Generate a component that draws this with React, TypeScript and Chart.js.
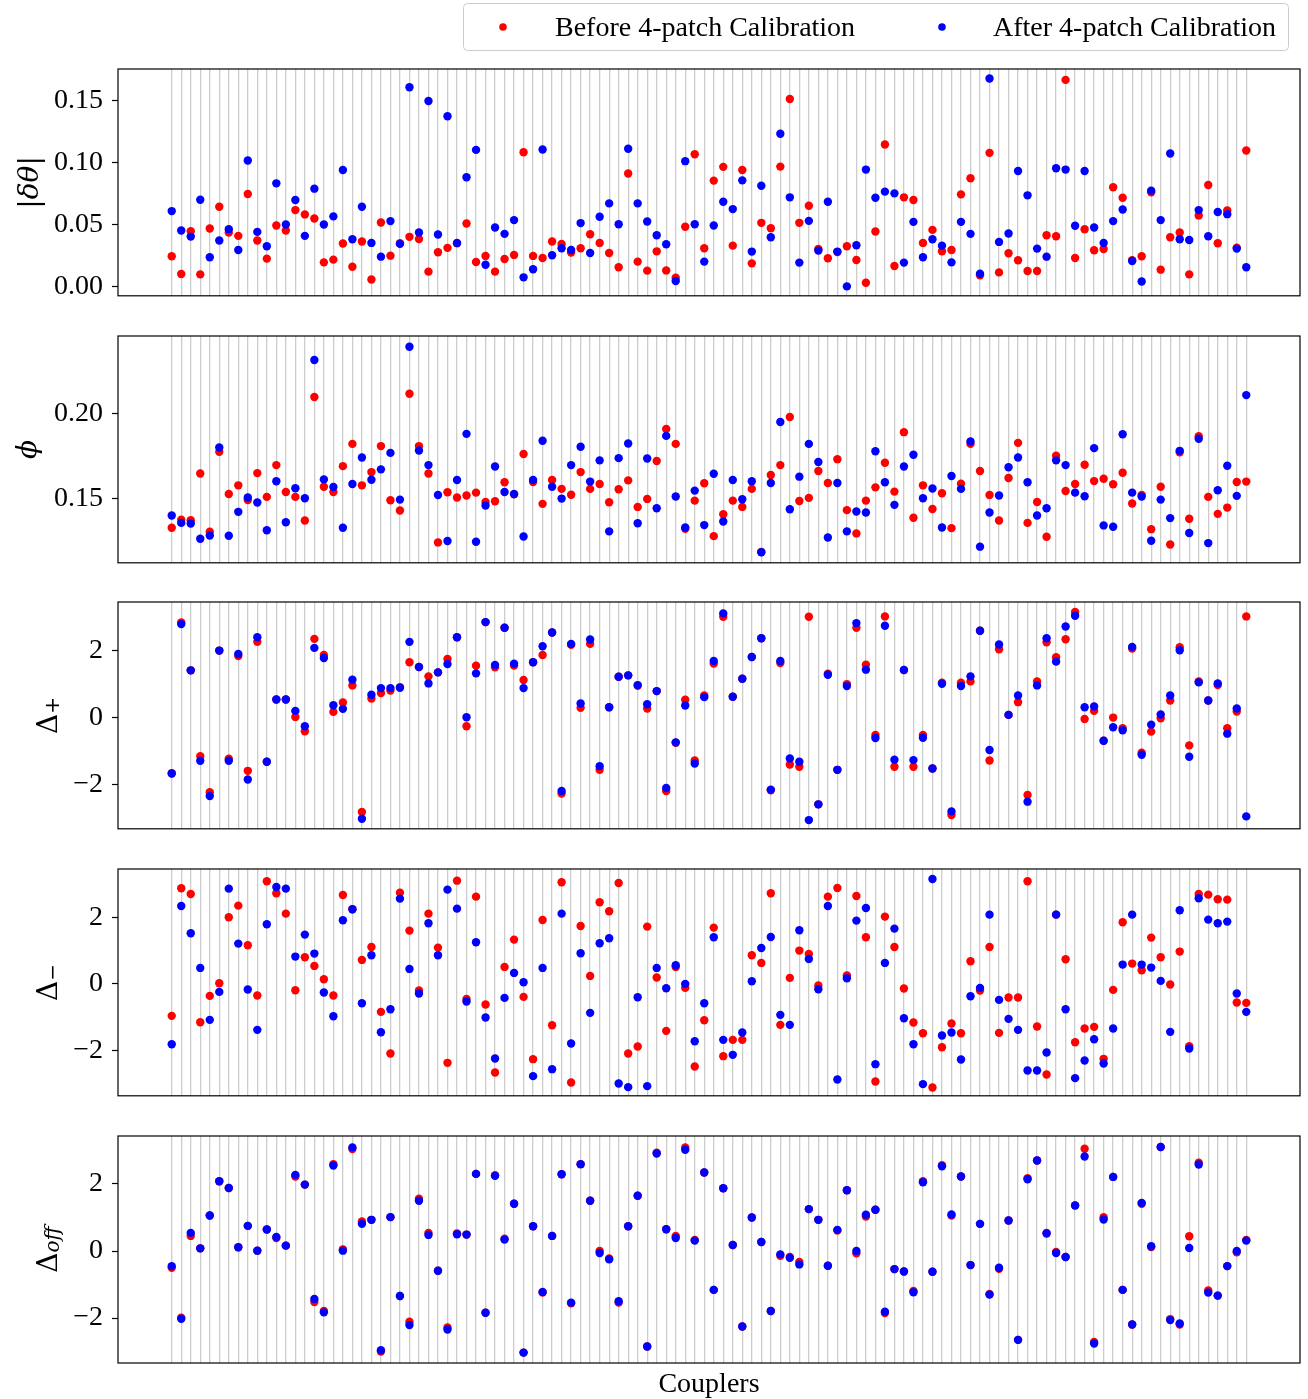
import React, { useEffect, useRef } from 'react';
import { Chart, registerables } from 'chart.js';

Chart.register(...registerables);

// ---------------- data ----------------
const COUPLERS: number[] = Array.from({ length: 114 }, (_, i) => i);

const LEGEND_LABELS = ['Before 4-patch Calibration', 'After 4-patch Calibration'];
const X_LABEL = 'Couplers';

const DTHETA_TICKS = [0, 0.05, 0.1, 0.15];
const PHI_TICKS = [0.15, 0.2];
const DELTA_TICKS = [-2, 0, 2];

const DTHETA_BEFORE = [
  0.0246, 0.0103, 0.0449, 0.0100, 0.0470, 0.0646, 0.0438, 0.0411, 0.0749, 0.0373,
  0.0227, 0.0495, 0.0454, 0.0619, 0.0584, 0.0551, 0.0197, 0.0219, 0.0349, 0.0162,
  0.0365, 0.0059, 0.0519, 0.0251, 0.0351, 0.0403, 0.0386, 0.0122, 0.0278, 0.0314,
  0.0350, 0.0511, 0.0200, 0.0249, 0.0122, 0.0224, 0.0257, 0.1086, 0.0249, 0.0232,
  0.0365, 0.0346, 0.0276, 0.0311, 0.0424, 0.0354, 0.0273, 0.0157, 0.0914, 0.0203,
  0.0130, 0.0286, 0.0132, 0.0073, 0.0484, 0.1070, 0.0311, 0.0857, 0.0968, 0.0332,
  0.0943, 0.0189, 0.0516, 0.0473, 0.0970, 0.1516, 0.0516, 0.0654, 0.0305, 0.0230,
  0.0280, 0.0327, 0.0216, 0.0032, 0.0446, 0.1149, 0.0168, 0.0722, 0.0700, 0.0354,
  0.0459, 0.0286, 0.0297, 0.0746, 0.0876, 0.0092, 0.1081, 0.0116, 0.0270, 0.0214,
  0.0127, 0.0127, 0.0416, 0.0408, 0.1670, 0.0232, 0.0465, 0.0295, 0.0305, 0.0803,
  0.0719, 0.0214, 0.0246, 0.0762, 0.0138, 0.0400, 0.0438, 0.0100, 0.0576, 0.0822,
  0.0351, 0.0616, 0.0316, 0.1100,
];
const DTHETA_AFTER = [
  0.0611, 0.0454, 0.0405, 0.0703, 0.0238, 0.0373, 0.0465, 0.0297, 0.1019, 0.0443,
  0.0327, 0.0835, 0.0503, 0.0700, 0.0411, 0.0792, 0.0503, 0.0568, 0.0943, 0.0384,
  0.0646, 0.0354, 0.0243, 0.0530, 0.0346, 0.1611, 0.0438, 0.1500, 0.0422, 0.1376,
  0.0354, 0.0884, 0.1105, 0.0178, 0.0478, 0.0427, 0.0538, 0.0076, 0.0141, 0.1108,
  0.0254, 0.0311, 0.0297, 0.0514, 0.0273, 0.0565, 0.0673, 0.0505, 0.1114, 0.0673,
  0.0527, 0.0416, 0.0343, 0.0046, 0.1014, 0.0505, 0.0203, 0.0495, 0.0686, 0.0627,
  0.0859, 0.0284, 0.0816, 0.0400, 0.1235, 0.0722, 0.0195, 0.0532, 0.0292, 0.0686,
  0.0284, 0.0003, 0.0335, 0.0946, 0.0719, 0.0768, 0.0754, 0.0195, 0.0524, 0.0238,
  0.0384, 0.0332, 0.0197, 0.0524, 0.0427, 0.0105, 0.1681, 0.0362, 0.0430, 0.0935,
  0.0738, 0.0308, 0.0243, 0.0957, 0.0946, 0.0492, 0.0935, 0.0478, 0.0354, 0.0530,
  0.0624, 0.0208, 0.0043, 0.0776, 0.0538, 0.1076, 0.0384, 0.0378, 0.0619, 0.0408,
  0.0603, 0.0586, 0.0308, 0.0157,
];

const PHI_BEFORE = [
  0.1330, 0.1377, 0.1375, 0.1650, 0.1307, 0.1777, 0.1529, 0.1580, 0.1494, 0.1652,
  0.1512, 0.1699, 0.1541, 0.1512, 0.1373, 0.2100, 0.1572, 0.1541, 0.1693, 0.1824,
  0.1580, 0.1658, 0.1811, 0.1492, 0.1432, 0.2119, 0.1811, 0.1650, 0.1244, 0.1539,
  0.1508, 0.1520, 0.1537, 0.1482, 0.1486, 0.1598, 0.1527, 0.1764, 0.1600, 0.1471,
  0.1611, 0.1559, 0.1525, 0.1658, 0.1559, 0.1588, 0.1480, 0.1557, 0.1609, 0.1453,
  0.1500, 0.1723, 0.1912, 0.1824, 0.1324, 0.1490, 0.1592, 0.1281, 0.1410, 0.1490,
  0.1453, 0.1559, 0.1188, 0.1641, 0.1699, 0.1982, 0.1488, 0.1506, 0.1664, 0.1594,
  0.1734, 0.1434, 0.1297, 0.1490, 0.1568, 0.1713, 0.1543, 0.1893, 0.1389, 0.1580,
  0.1441, 0.1533, 0.1328, 0.1590, 0.1824, 0.1664, 0.1523, 0.1373, 0.1623, 0.1830,
  0.1359, 0.1482, 0.1277, 0.1754, 0.1547, 0.1588, 0.1701, 0.1605, 0.1619, 0.1586,
  0.1654, 0.1473, 0.1523, 0.1322, 0.1572, 0.1232, 0.1775, 0.1383, 0.1869, 0.1512,
  0.1412, 0.1449, 0.1600, 0.1602,
];
const PHI_AFTER = [
  0.1402, 0.1359, 0.1355, 0.1266, 0.1285, 0.1803, 0.1283, 0.1424, 0.1508, 0.1479,
  0.1316, 0.1604, 0.1363, 0.1563, 0.1504, 0.2318, 0.1615, 0.1570, 0.1330, 0.1588,
  0.1744, 0.1613, 0.1674, 0.1771, 0.1496, 0.2396, 0.1785, 0.1699, 0.1523, 0.1252,
  0.1611, 0.1883, 0.1248, 0.1461, 0.1691, 0.1541, 0.1529, 0.1279, 0.1611, 0.1842,
  0.1572, 0.1502, 0.1699, 0.1807, 0.1602, 0.1727, 0.1309, 0.1740, 0.1826, 0.1357,
  0.1738, 0.1445, 0.1871, 0.1514, 0.1332, 0.1549, 0.1346, 0.1648, 0.1367, 0.1611,
  0.1498, 0.1604, 0.1186, 0.1594, 0.1953, 0.1439, 0.1631, 0.1824, 0.1717, 0.1273,
  0.1594, 0.1309, 0.1426, 0.1420, 0.1781, 0.1598, 0.1465, 0.1691, 0.1760, 0.1504,
  0.1561, 0.1332, 0.1635, 0.1559, 0.1838, 0.1219, 0.1420, 0.1520, 0.1686, 0.1744,
  0.1598, 0.1402, 0.1445, 0.1727, 0.1699, 0.1537, 0.1516, 0.1799, 0.1344, 0.1336,
  0.1881, 0.1537, 0.1514, 0.1254, 0.1496, 0.1387, 0.1783, 0.1299, 0.1854, 0.1240,
  0.1551, 0.1695, 0.1518, 0.2111,
];

const DPLUS_BEFORE = [
  -1.65, 2.85, 1.42, -1.14, -2.22, 2.01, -1.22, 1.85, -1.58, 2.27,
  -1.31, 0.55, 0.55, 0.03, -0.40, 2.36, 1.88, 0.18, 0.46, 0.97,
  -2.81, 0.58, 0.74, 0.82, 0.92, 1.66, 1.52, 1.24, 1.36, 1.76,
  2.41, -0.25, 1.56, 2.86, 1.51, 2.69, 1.56, 1.13, 1.66, 1.88,
  2.55, -2.26, 2.18, 0.30, 2.21, -1.55, 0.32, 1.23, 1.27, 0.96,
  0.28, 0.80, -2.18, -0.74, 0.54, -1.27, 0.67, 1.62, 3.02, 0.63,
  1.17, 1.82, 2.38, -2.16, 1.64, -1.39, -1.46, 3.02, -2.58, 1.32,
  -1.55, 1.01, 2.69, 1.59, -0.51, 3.03, -1.46, 1.43, -1.46, -0.51,
  -1.51, 1.05, -2.90, 1.05, 1.09, 2.60, -1.27, 2.05, 0.09, 0.47,
  -2.30, 1.09, 2.26, 1.81, 2.35, 3.16, -0.03, 0.21, -0.68, 0.01,
  -0.31, 2.07, -1.04, -0.41, -0.01, 0.52, 2.11, -0.82, 1.09, 0.52,
  0.98, -0.31, 0.19, 3.03,
];
const DPLUS_AFTER = [
  -1.66, 2.80, 1.42, -1.28, -2.33, 2.01, -1.28, 1.91, -1.84, 2.41,
  -1.31, 0.55, 0.55, 0.21, -0.25, 2.09, 1.79, 0.38, 0.27, 1.14,
  -3.01, 0.69, 0.89, 0.89, 0.90, 2.27, 1.52, 1.03, 1.36, 1.61,
  2.41, 0.02, 1.33, 2.86, 1.58, 2.69, 1.62, 0.89, 1.66, 2.14,
  2.55, -2.18, 2.21, 0.43, 2.34, -1.44, 0.32, 1.23, 1.27, 0.98,
  0.41, 0.80, -2.09, -0.73, 0.37, -1.36, 0.62, 1.70, 3.12, 0.63,
  1.17, 1.82, 2.38, -2.14, 1.70, -1.21, -1.31, -3.05, -2.58, 1.29,
  -1.55, 0.95, 2.83, 1.44, -0.60, 2.75, -1.25, 1.43, -1.26, -0.59,
  -1.51, 1.02, -2.79, 0.95, 1.24, 2.60, -0.96, 2.19, 0.09, 0.67,
  -2.50, 0.97, 2.38, 1.68, 2.73, 3.05, 0.32, 0.34, -0.68, -0.28,
  -0.37, 2.12, -1.10, -0.20, 0.10, 0.67, 2.02, -1.16, 1.06, 0.52,
  1.03, -0.47, 0.28, -2.94,
];

const DMINUS_BEFORE = [
  -0.96, 2.87, 2.70, -1.15, -0.36, 0.02, 2.00, 2.35, 1.16, -0.35,
  3.08, 2.72, 2.11, -0.19, 0.80, 0.54, 0.14, -0.35, 2.67, 2.24,
  0.72, 1.11, -0.84, -2.09, 2.74, 1.60, -0.20, 2.11, 1.09, -2.37,
  3.10, -0.45, 2.62, -0.62, -2.66, 0.51, 1.33, -0.39, -2.26, 1.92,
  -1.24, 3.05, -2.96, 1.74, 0.24, 2.45, 2.18, 3.03, -2.09, -1.88,
  1.72, 0.19, -1.41, 0.51, -0.12, -2.48, -1.09, 1.69, -2.17, -1.68,
  -1.68, 0.86, 0.63, 2.72, -1.23, 0.18, 1.00, 0.90, -0.05, 2.62,
  2.88, 0.25, 2.64, 1.40, -2.93, 2.02, 1.11, -0.14, -1.16, -1.48,
  -3.11, -1.90, -1.19, -1.48, 0.68, -0.20, 1.11, -1.47, -0.41, -0.41,
  3.08, -1.28, -2.72, 2.08, 0.74, -1.75, -1.34, -1.29, -2.25, -0.18,
  1.85, 0.61, 0.41, 1.39, 0.80, -0.02, 0.97, -1.87, 2.70, 2.68,
  2.54, 2.53, -0.56, -0.57,
];
const DMINUS_AFTER = [
  -1.81, 2.34, 1.52, 0.48, -1.08, -0.24, 2.86, 1.21, -0.17, -1.38,
  1.79, 2.91, 2.86, 0.82, 1.48, 0.91, -0.26, -0.97, 1.91, 2.24,
  -0.58, 0.86, -1.45, -0.76, 2.56, 0.45, -0.29, 1.82, 0.86, 2.83,
  2.26, -0.53, 1.25, -1.01, -2.24, -0.42, 0.33, 0.05, -2.77, 0.48,
  -2.56, 2.11, -1.79, 0.92, -0.87, 1.22, 1.37, -2.99, -3.10, -0.40,
  -3.07, 0.48, -0.13, 0.56, 0.00, -1.72, -0.58, 1.40, -1.68, -2.13,
  -1.46, 0.08, 1.08, 1.41, -0.93, -1.23, 1.61, 0.75, -0.16, 2.34,
  -2.87, 0.17, 1.90, 2.28, -2.41, 0.63, 1.66, -1.03, -1.81, -3.01,
  3.15, -1.55, -1.46, -2.27, -0.37, -0.12, 2.08, -0.48, -1.05, -1.38,
  -2.60, -2.60, -2.06, 2.08, -0.76, -2.83, -2.30, -1.66, -2.39, -1.34,
  0.58, 2.08, 0.58, 0.49, 0.09, -1.44, 2.21, -1.94, 2.57, 1.93,
  1.82, 1.87, -0.29, -0.84,
];

const DOFF_BEFORE = [
  -0.50, -1.99, 0.45, 0.08, 1.06, 2.08, 1.88, 0.11, 0.75, 0.01,
  0.64, 0.39, 0.16, 2.22, 1.98, -1.52, -1.79, 2.59, 0.05, 3.04,
  0.88, 0.93, -3.00, 1.01, -1.34, -2.11, 1.56, 0.54, -0.59, -2.28,
  0.52, 0.49, 2.30, -1.84, 2.26, 0.37, 1.41, -3.03, 0.74, -1.24,
  0.45, 2.29, -1.56, 2.59, 1.50, 0.00, -0.22, -1.54, 0.74, 1.65,
  -2.85, 2.93, 0.65, 0.45, 3.09, 0.33, 2.34, -1.16, 1.87, 0.18,
  -2.25, 1.00, 0.27, -1.79, -0.14, -0.18, -0.33, 1.25, 0.93, -0.44,
  0.61, 1.81, -0.07, 1.03, 1.23, -1.85, -0.54, -0.61, -1.19, 2.08,
  -0.62, 2.56, 1.06, 2.22, -0.42, 0.81, -1.28, -0.53, 0.91, -2.65,
  2.17, 2.70, 0.54, -0.03, -0.18, 1.36, 3.05, -2.71, 1.01, 2.21,
  -1.16, -2.19, 1.41, 0.12, 3.10, -2.03, -2.19, 0.44, 2.63, -1.18,
  -1.33, -0.45, -0.04, 0.33,
];
const DOFF_AFTER = [
  -0.45, -2.02, 0.54, 0.08, 1.06, 2.08, 1.88, 0.11, 0.75, 0.01,
  0.64, 0.42, 0.16, 2.27, 1.98, -1.43, -1.83, 2.55, 0.01, 3.09,
  0.81, 0.93, -2.96, 1.01, -1.34, -2.21, 1.50, 0.48, -0.59, -2.34,
  0.50, 0.49, 2.30, -1.84, 2.24, 0.34, 1.41, -3.03, 0.74, -1.22,
  0.45, 2.29, -1.54, 2.59, 1.50, -0.06, -0.25, -1.50, 0.74, 1.65,
  -2.85, 2.91, 0.65, 0.39, 3.02, 0.31, 2.34, -1.16, 1.87, 0.18,
  -2.25, 1.00, 0.27, -1.79, -0.10, -0.20, -0.40, 1.25, 0.93, -0.44,
  0.63, 1.81, 0.00, 1.08, 1.23, -1.81, -0.54, -0.61, -1.23, 2.05,
  -0.62, 2.53, 1.09, 2.22, -0.42, 0.81, -1.30, -0.50, 0.91, -2.65,
  2.14, 2.70, 0.52, -0.06, -0.18, 1.36, 2.82, -2.76, 0.94, 2.21,
  -1.16, -2.19, 1.43, 0.14, 3.10, -2.06, -2.16, 0.09, 2.58, -1.24,
  -1.33, -0.45, 0.00, 0.31,
];

// ---------------- styling ----------------
const RED = '#ff0000';
const BLUE = '#0000ff';
const TEXT_FONT = "'Liberation Serif', 'Times New Roman', serif";
const MATH_FONT = "'DejaVu Serif', serif";
const FS = 28;

type Part = { t: string; font: string; dy?: number };

interface PanelSpec {
  key: string;
  before: number[];
  after: number[];
  min: number;
  max: number;
  ticks: number[];
  decimals: number;
  title: Part[];
  titleX: number;
  top: number;
  height: number;
  padTop: number;
  padBottom: number;
  legend?: boolean;
  xlabel?: boolean;
}

const mainF = `${FS}px ${MATH_FONT}`;
const italF = `italic ${FS}px ${MATH_FONT}`;
const subF = `20px ${MATH_FONT}`;
const subIF = `italic 20px ${MATH_FONT}`;

const PANELS: PanelSpec[] = [
  {
    key: 'dtheta', before: DTHETA_BEFORE, after: DTHETA_AFTER,
    min: -0.0073, max: 0.1758, ticks: DTHETA_TICKS, decimals: 2,
    title: [{ t: '|', font: mainF }, { t: 'δθ', font: italF }, { t: '|', font: mainF }],
    titleX: 38, top: 0, height: 300, padTop: 69, padBottom: 4, legend: true,
  },
  {
    key: 'phi', before: PHI_BEFORE, after: PHI_AFTER,
    min: 0.1124, max: 0.2459, ticks: PHI_TICKS, decimals: 2,
    title: [{ t: 'ϕ', font: italF }],
    titleX: 36, top: 300, height: 267, padTop: 36, padBottom: 4,
  },
  {
    key: 'dplus', before: DPLUS_BEFORE, after: DPLUS_AFTER,
    min: -3.31, max: 3.46, ticks: DELTA_TICKS, decimals: 0,
    title: [{ t: 'Δ', font: mainF }, { t: '+', font: subF, dy: 2 }],
    titleX: 57, top: 567, height: 266, padTop: 35, padBottom: 4,
  },
  {
    key: 'dminus', before: DMINUS_BEFORE, after: DMINUS_AFTER,
    min: -3.36, max: 3.45, ticks: DELTA_TICKS, decimals: 0,
    title: [{ t: 'Δ', font: mainF }, { t: '−', font: subF, dy: 2 }],
    titleX: 57, top: 833, height: 267, padTop: 36, padBottom: 4,
  },
  {
    key: 'doff', before: DOFF_BEFORE, after: DOFF_AFTER,
    min: -3.34, max: 3.43, ticks: DELTA_TICKS, decimals: 0,
    title: [{ t: 'Δ', font: mainF }, { t: 'off', font: subIF, dy: 2 }],
    titleX: 57, top: 1100, height: 299, padTop: 36, padBottom: 36, xlabel: true,
  },
];

function fmtTick(v: number, decimals: number): string {
  if (decimals > 0) return v.toFixed(decimals);
  const r = Math.round(v);
  return r < 0 ? '\u2212' + Math.abs(r) : String(r);
}

function makePlugin(spec: PanelSpec, canvasTop: number) {
  return {
    id: 'panelDecor_' + spec.key,
    afterDraw(chart: any) {
      const ctx: CanvasRenderingContext2D = chart.ctx;
      const a = chart.chartArea;
      ctx.save();
      // frame
      ctx.strokeStyle = '#000';
      ctx.lineWidth = 1.2;
      ctx.strokeRect(a.left, a.top, a.right - a.left, a.bottom - a.top);

      // rotated y title
      const cy = (a.top + a.bottom) / 2;
      ctx.save();
      ctx.translate(spec.titleX, cy);
      ctx.rotate(-Math.PI / 2);
      ctx.fillStyle = '#000';
      ctx.textAlign = 'left';
      ctx.textBaseline = 'alphabetic';
      const widths = spec.title.map((p) => {
        ctx.font = p.font;
        return ctx.measureText(p.t).width;
      });
      const total = widths.reduce((s, w) => s + w, 0);
      let x = -total / 2;
      spec.title.forEach((p, i) => {
        ctx.font = p.font;
        ctx.fillText(p.t, x, p.dy || 0);
        x += widths[i];
      });
      ctx.restore();

      // legend
      if (spec.legend) {
        const lx = 463.5, ly = 3.5, lw = 825, lh = 47, r = 4;
        ctx.beginPath();
        ctx.moveTo(lx + r, ly);
        ctx.lineTo(lx + lw - r, ly);
        ctx.quadraticCurveTo(lx + lw, ly, lx + lw, ly + r);
        ctx.lineTo(lx + lw, ly + lh - r);
        ctx.quadraticCurveTo(lx + lw, ly + lh, lx + lw - r, ly + lh);
        ctx.lineTo(lx + r, ly + lh);
        ctx.quadraticCurveTo(lx, ly + lh, lx, ly + lh - r);
        ctx.lineTo(lx, ly + r);
        ctx.quadraticCurveTo(lx, ly, lx + r, ly);
        ctx.closePath();
        ctx.fillStyle = 'rgba(255,255,255,0.8)';
        ctx.fill();
        ctx.strokeStyle = '#cccccc';
        ctx.lineWidth = 1;
        ctx.stroke();
        const items = [
          { c: RED, mx: 503, tx: 555, label: LEGEND_LABELS[0] },
          { c: BLUE, mx: 942, tx: 993, label: LEGEND_LABELS[1] },
        ];
        ctx.font = `${FS}px ${TEXT_FONT}`;
        ctx.textAlign = 'left';
        ctx.textBaseline = 'alphabetic';
        items.forEach((it) => {
          ctx.beginPath();
          ctx.fillStyle = it.c;
          ctx.arc(it.mx, 27 - canvasTop, 3.8, 0, Math.PI * 2);
          ctx.fill();
          ctx.fillStyle = '#000';
          ctx.fillText(it.label, it.tx, 36 - canvasTop);
        });
      }

      // x label
      if (spec.xlabel) {
        ctx.fillStyle = '#000';
        ctx.font = `${FS}px ${TEXT_FONT}`;
        ctx.textAlign = 'center';
        ctx.textBaseline = 'alphabetic';
        ctx.fillText(X_LABEL, (a.left + a.right) / 2, a.bottom + 29);
      }
      ctx.restore();
    },
  };
}

function Panel({ spec }: { spec: PanelSpec }) {
  const ref = useRef<HTMLCanvasElement | null>(null);
  useEffect(() => {
    if (!ref.current) return;
    const chart = new Chart(ref.current, {
      type: 'scatter',
      data: {
        datasets: [
          {
            label: LEGEND_LABELS[0],
            data: spec.before.map((y, i) => ({ x: COUPLERS[i], y })),
            backgroundColor: RED,
            borderColor: RED,
            borderWidth: 0,
            pointRadius: 4.2,
            pointHoverRadius: 4.2,
            order: 2,
          },
          {
            label: LEGEND_LABELS[1],
            data: spec.after.map((y, i) => ({ x: COUPLERS[i], y })),
            backgroundColor: BLUE,
            borderColor: BLUE,
            borderWidth: 0,
            pointRadius: 4.2,
            pointHoverRadius: 4.2,
            order: 1,
          },
        ],
      },
      options: {
        animation: false,
        responsive: true,
        maintainAspectRatio: false,
        events: [],
        layout: { padding: { left: 0, right: 8, top: spec.padTop, bottom: spec.padBottom } },
        plugins: { legend: { display: false }, tooltip: { enabled: false } },
        scales: {
          x: {
            type: 'linear',
            min: -5.65,
            max: COUPLERS.length - 1 + 5.65,
            afterBuildTicks: (scale: any) => {
              scale.ticks = COUPLERS.map((v) => ({ value: v }));
            },
            afterFit: (scale: any) => {
              scale.height = 0;
              scale.paddingLeft = 0;
              scale.paddingRight = 0;
            },
            ticks: { display: false, autoSkip: false },
            grid: { color: '#cdcdcd', lineWidth: 1.3, drawTicks: false },
            border: { display: false },
          },
          y: {
            type: 'linear',
            min: spec.min,
            max: spec.max,
            afterBuildTicks: (scale: any) => {
              scale.ticks = spec.ticks.map((v) => ({ value: v }));
            },
            afterFit: (scale: any) => {
              scale.width = 118;
              scale.paddingTop = 0;
              scale.paddingBottom = 0;
            },
            ticks: {
              color: '#000',
              font: { family: TEXT_FONT, size: FS },
              padding: 9,
              callback: (v: any) => fmtTick(Number(v), spec.decimals),
            },
            grid: {
              drawOnChartArea: false,
              drawTicks: true,
              tickLength: 6,
              tickColor: '#000',
              tickWidth: 1.2,
            },
            border: { display: false },
          },
        },
      },
      plugins: [makePlugin(spec, spec.top)],
    } as any);
    return () => chart.destroy();
  }, [spec]);
  return (
    <div style={{ position: 'absolute', left: 0, top: spec.top, width: 1308, height: spec.height }}>
      <canvas ref={ref} />
    </div>
  );
}

export default function App() {
  return (
    <div style={{ position: 'absolute', left: 0, top: 0, width: 1308, height: 1399, background: '#fff' }}>
      {PANELS.map((p) => (
        <Panel key={p.key} spec={p} />
      ))}
    </div>
  );
}
